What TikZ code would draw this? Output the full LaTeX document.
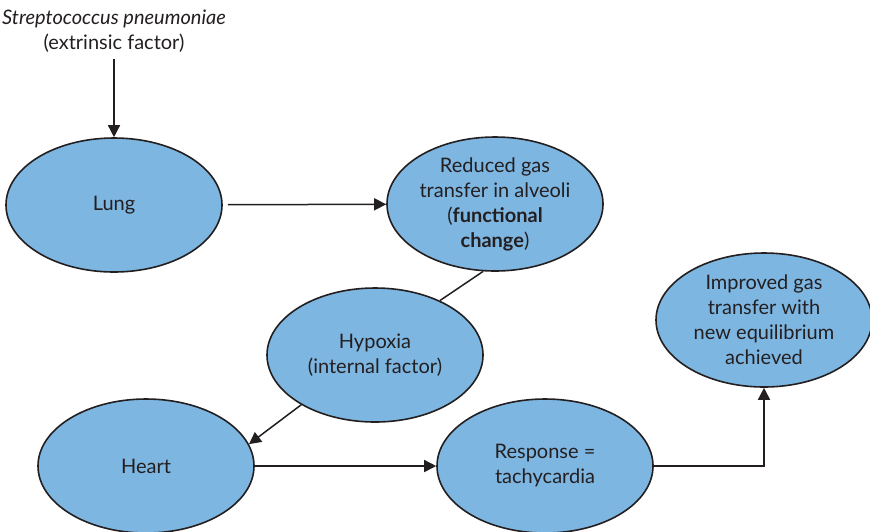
\documentclass[tikz,border=0pt]{standalone}
\usepackage{fontspec}
\setmainfont{Lato}
\usetikzlibrary{arrows.meta, shapes.geometric}
\definecolor{ink}{RGB}{35,31,32}
\definecolor{lightblue}{RGB}{126,182,226}
\colorlet{ellipse edge}{ink}
\colorlet{ellipse area}{lightblue}
\tikzset{
  stage/.style={ellipse, fill=ellipse area, draw=ellipse edge, line width=0.8pt,
    minimum width=108pt, minimum height=67pt, inner sep=0pt, align=center,
    text=ink, font=\fontsize{10}{12.5}\selectfont},
  factor/.style={align=center, text=ink, font=\fontsize{10}{12.5}\selectfont},
  edge/.style={-{Triangle[length=6pt,width=6pt]}, draw=ink, line width=0.75pt},
  link/.style={-, draw=ink, line width=0.75pt}
}
\begin{document}
\begin{tikzpicture}[x=0.5pt, y=-0.5pt]
    \useasboundingbox (0,0) rectangle (870,531);
    \node[factor] (microbe) at (114,31) {\textit{Streptococcus pneumoniae}\\(extrinsic factor)};
    \node[stage] (lung) at (114,205) {Lung};
    \node[stage] (reduced) at (495,204) {Reduced gas\\transfer in alveoli\\(\textbf{functional}\\\textbf{change})};
    \node[stage] (hypoxia) at (375,355) {Hypoxia\\(internal factor)};
    \node[stage] (heart) at (146,466) {Heart};
    \node[stage] (response) at (545,466) {Response =\\tachycardia};
    \node[stage] (improved) at (764,320) {Improved gas\\transfer with\\new equilibrium\\achieved};
    \draw[edge] (microbe) -- (lung);
    \draw[edge, shorten <=2.5pt] (lung) -- (reduced);
    \draw[link] (reduced.-100) -- (hypoxia.40);
    \draw[edge] (hypoxia.214) -- (heart.12);
    \draw[edge] (heart) -- (response);
    \draw[edge] (response.east) -| (improved.south);
\end{tikzpicture}
\end{document}
